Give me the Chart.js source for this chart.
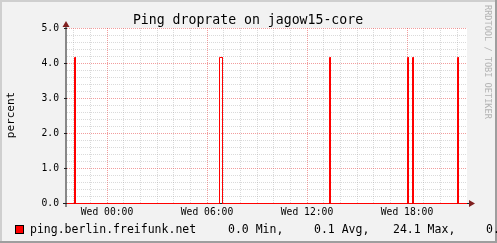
<!DOCTYPE html>
<html>
<head>
<meta charset="utf-8">
<script src="https://cdn.jsdelivr.net/npm/chart.js@4"></script>
<style>
body{margin:0;background:#f2f2f2;}
canvas{display:block;}
</style>
</head>
<body>
<canvas id="droprate_chart" width="497" height="243"></canvas>
<script>
// hours relative to Wed 00:00, drop rate in percent
var sampleHours = [-2.4, -1.95, -1.95, -1.89, -1.89, 6.75, 6.75, 6.93, 6.93,
    13.35, 13.35, 13.41, 13.41, 18.03, 18.03, 18.09, 18.09,
    18.33, 18.33, 18.39, 18.39, 21.03, 21.03, 21.09, 21.09, 21.6];
var dropPercent = [0, 0, 4.16, 4.16, 0, 0, 4.16, 4.16, 0,
    0, 4.16, 4.16, 0, 0, 4.16, 4.16, 0,
    0, 4.16, 4.16, 0, 0, 4.16, 4.16, 0, 0];
var gridHours = [-2, -1, 0, 1, 2, 3, 4, 5, 6, 7, 8, 9, 10, 11, 12, 13, 14, 15, 16, 17, 18, 19, 20, 21];
var labelHours = [0, 6, 12, 18];
var labelTexts = ['Wed 00:00', 'Wed 06:00', 'Wed 12:00', 'Wed 18:00'];
var gridPercent = [0, 0.2, 0.4, 0.6, 0.8, 1, 1.2, 1.4, 1.6, 1.8, 2, 2.2, 2.4, 2.6, 2.8,
    3, 3.2, 3.4, 3.6, 3.8, 4, 4.2, 4.4, 4.6, 4.8, 5];
var seriesName = 'ping.berlin.freifunk.net';
var statValues = [0.0, 0.1, 24.1, 0.0];
var statNames = ['Min,', 'Avg,', 'Max,', 'Cur'];

var mono = "'DejaVu Sans Mono', monospace";
var gridMinor = 'rgba(150,150,150,0.35)';
var gridMajor = 'rgba(230,60,60,0.5)';

function isWhole(v) { return Math.abs(v - Math.round(v)) < 1e-6; }

var rrdLook = {
    id: 'rrdLook',
    beforeDraw: function (chart) {
        var c = chart.ctx, a = chart.chartArea;
        c.save();
        c.fillStyle = '#f2f2f2';
        c.fillRect(0, 0, 497, 243);
        c.fillStyle = '#cfcfcf';
        c.fillRect(0, 0, 497, 2);
        c.fillRect(0, 0, 2, 243);
        c.fillStyle = '#9e9e9e';
        c.fillRect(0, 241, 497, 2);
        c.fillRect(495, 0, 2, 243);
        c.fillStyle = '#ffffff';
        c.fillRect(a.left, a.top, a.right - a.left, a.bottom - a.top);
        c.restore();
    },
    beforeDatasetsDraw: function (chart) {
        var c = chart.ctx;
        c.save();
        c.strokeStyle = '#1f1f1f';
        c.lineWidth = 1;
        c.beginPath();
        c.moveTo(66, 207);
        c.lineTo(66, 25);
        c.moveTo(63, 203.5);
        c.lineTo(470, 203.5);
        c.stroke();
        // arrows
        c.fillStyle = '#801f1f';
        c.beginPath();
        c.moveTo(66, 21);
        c.lineTo(69.5, 27);
        c.lineTo(62.5, 27);
        c.closePath();
        c.fill();
        c.beginPath();
        c.moveTo(475, 203.5);
        c.lineTo(469, 200);
        c.lineTo(469, 207);
        c.closePath();
        c.fill();
        c.restore();
    },
    afterDraw: function (chart) {
        var c = chart.ctx;
        c.save();
        c.fillStyle = '#000';
        c.textBaseline = 'alphabetic';
        c.font = '13.2px ' + mono;
        c.textAlign = 'center';
        c.fillText('Ping droprate on jagow15-core', 248, 24);

        c.save();
        c.translate(14, 115);
        c.rotate(-Math.PI / 2);
        c.font = '11px ' + mono;
        c.fillText('percent', 0, 0);
        c.restore();

        // legend line
        c.fillStyle = '#ff0000';
        c.fillRect(15, 225, 9, 9);
        c.strokeStyle = '#000';
        c.lineWidth = 1;
        c.strokeRect(15.5, 225.5, 8, 8);
        c.fillStyle = '#000';
        c.font = '11.5px ' + mono;
        c.textAlign = 'left';
        c.fillText(seriesName, 30, 233);
        var statX = [228, 314, 393, 486];
        for (var i = 0; i < statValues.length; i++) {
            c.fillText(statValues[i].toFixed(1) + ' ' + statNames[i], statX[i], 233);
        }

        // watermark
        c.save();
        c.translate(485, 5);
        c.rotate(Math.PI / 2);
        c.font = '8.6px ' + mono;
        c.fillStyle = '#b4b4b4';
        c.fillText('RRDTOOL / TOBI OETIKER', 0, 0);
        c.restore();
        c.restore();
    }
};

var ctx = document.getElementById('droprate_chart');
var myChart = new Chart(ctx, {
    type: 'line',
    data: {
        datasets: [{
            label: seriesName,
            data: sampleHours.map(function (h, i) { return { x: h, y: dropPercent[i] }; }),
            borderColor: '#ff0000',
            borderWidth: 1,
            pointRadius: 0,
            tension: 0,
            fill: false,
            clip: false
        }]
    },
    options: {
        responsive: false,
        animation: false,
        devicePixelRatio: 1,
        events: [],
        layout: { padding: { top: 28, right: 30, left: 0, bottom: 0 } },
        plugins: {
            legend: { display: false },
            title: { display: false },
            tooltip: { enabled: false }
        },
        scales: {
            x: {
                type: 'linear',
                min: -2.4,
                max: 21.6,
                afterBuildTicks: function (s) {
                    s.ticks = gridHours.map(function (h) { return { value: h }; });
                },
                afterFit: function (s) { s.height = 39.5; },
                ticks: {
                    autoSkip: false,
                    maxRotation: 0,
                    minRotation: 0,
                    padding: 3,
                    color: '#000',
                    font: { family: mono, size: 9.7 },
                    callback: function (v) {
                        var i = labelHours.indexOf(v);
                        return i < 0 ? '' : labelTexts[i];
                    }
                },
                grid: {
                    drawTicks: false,
                    lineWidth: 1,
                    color: function (c) {
                        return c.tick && labelHours.indexOf(c.tick.value) >= 0 ? gridMajor : gridMinor;
                    }
                },
                border: { display: false, dash: [1, 1] }
            },
            y: {
                min: 0,
                max: 5,
                afterBuildTicks: function (s) {
                    s.ticks = gridPercent.map(function (p) { return { value: p }; });
                },
                afterFit: function (s) { s.width = 67; },
                ticks: {
                    autoSkip: false,
                    padding: 5,
                    color: '#000',
                    font: { family: mono, size: 9.7 },
                    callback: function (v) { return isWhole(v) ? v.toFixed(1) : ''; }
                },
                grid: {
                    drawTicks: true,
                    tickLength: 3,
                    tickBorderDash: [],
                    lineWidth: 1,
                    color: function (c) {
                        return c.tick && isWhole(c.tick.value) ? gridMajor : gridMinor;
                    },
                    tickColor: function (c) {
                        return c.tick && isWhole(c.tick.value) ? '#1f1f1f' : 'rgba(0,0,0,0)';
                    }
                },
                border: { display: false, dash: [1, 1] }
            }
        }
    },
    plugins: [rrdLook]
});
</script>
</body>
</html>
